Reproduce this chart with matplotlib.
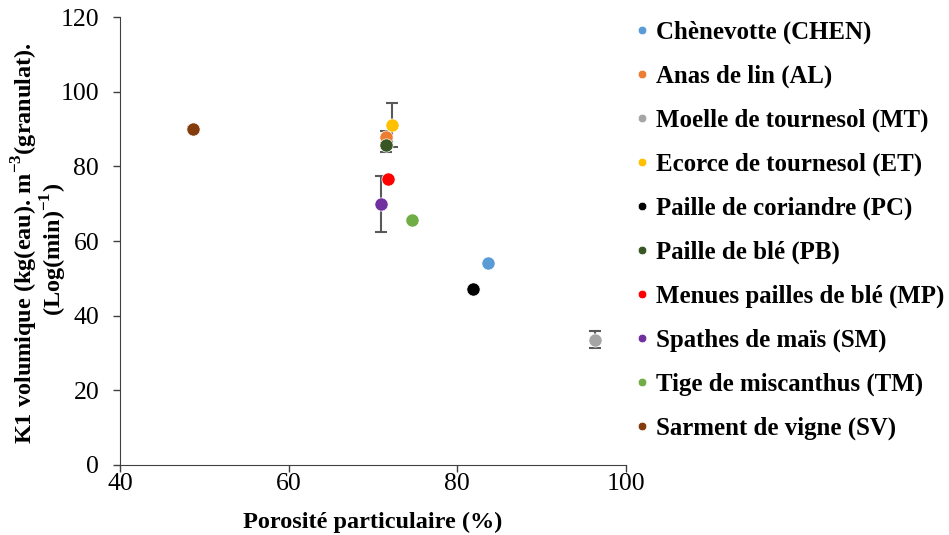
import matplotlib
import matplotlib.pyplot as plt

matplotlib.rcParams['font.family'] = ['Liberation Serif', 'DejaVu Serif']

# Données
labels = ['Chènevotte (CHEN)', 'Anas de lin (AL)', 'Moelle de tournesol (MT)',
          'Ecorce de tournesol (ET)', 'Paille de coriandre (PC)', 'Paille de blé (PB)',
          'Menues pailles de blé (MP)', 'Spathes de maïs (SM)', 'Tige de miscanthus (TM)',
          'Sarment de vigne (SV)']
porosite = [83.7, 71.6, 96.3, 72.3, 81.9, 71.6, 71.8, 71.0, 74.6, 48.7]
k1       = [54.1, 87.9, 33.6, 91.1, 47.1, 85.7, 76.6, 69.9, 65.5, 90.1]
k1_err   = [0.0, 1.6, 2.4, 5.8, 0.0, 1.8, 0.0, 7.4, 0.5, 0.4]
colors   = ['#5b9bd5', '#ed7d31', '#a5a5a5', '#ffc000', '#000000', '#375623',
            '#ff0000', '#7030a0', '#70ad47', '#843c0c']

fig = plt.figure(figsize=(9.49, 5.35), dpi=100)
ax = fig.add_axes([0.1265, 0.131, 0.533, 0.837])

for x, y, e, c, lab in zip(porosite, k1, k1_err, colors, labels):
    if e > 0:
        ax.errorbar(x, y, yerr=e, fmt='none', ecolor='#595959', elinewidth=1.5,
                    capsize=4.5, capthick=1.5, zorder=2)
    ax.plot(x, y, 'o', color=c, markersize=9.5, markeredgecolor='white',
            markeredgewidth=0.5, label=lab, zorder=3)

ax.set_xlim(40, 100)
ax.set_ylim(0, 120)
ax.set_xticks([40, 60, 80, 100])
ax.set_yticks(range(0, 121, 20))
ax.tick_params(labelsize=18.5, width=1, color='#404040')
ax.tick_params(axis='y', length=5, pad=10)
ax.tick_params(axis='x', length=5, pad=1)
for s in ['top', 'right']:
    ax.spines[s].set_visible(False)
for s in ['left', 'bottom']:
    ax.spines[s].set_color('#404040')

ax.set_xlabel('Porosité particulaire (%)', fontsize=17.5, fontweight='bold', labelpad=12)

# titre de l'axe y sur deux lignes, placé comme dans l'original
fig.text(25 / 949, 1 - 243 / 535, 'K1 volumique (kg(eau). m$^{\\mathregular{-3}}$(granulat).',
         rotation=90, ha='center', va='center', fontsize=17.5, fontweight='bold')
fig.text(54 / 949, 1 - 249 / 535, '(Log(min)$^{\\mathregular{-1}}$)',
         rotation=90, ha='center', va='center', fontsize=17.5, fontweight='bold')

leg = ax.legend(loc='upper left', bbox_to_anchor=(1.0, 1.015), frameon=False,
                prop={'size': 17.9, 'weight': 'bold'}, markerscale=0.65,
                handlelength=0.5, handletextpad=0.3, labelspacing=0.83,
                borderaxespad=0)

fig.savefig('out.png', dpi=100)
